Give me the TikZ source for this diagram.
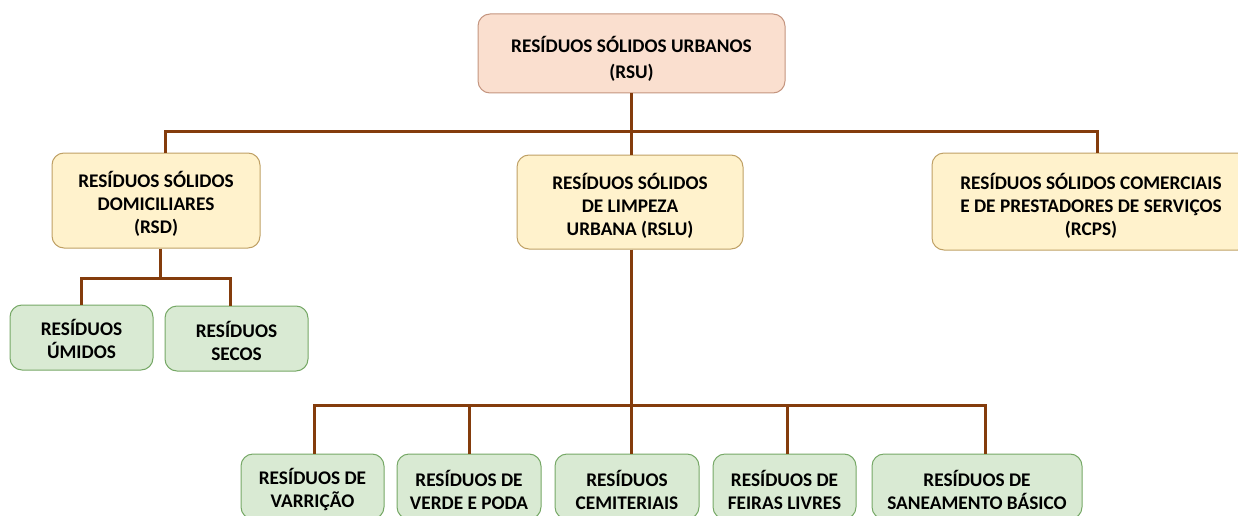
\documentclass[tikz,border=0pt]{standalone}
\usepackage{fontspec}
\setmainfont{Carlito}
\begin{document}
\begin{tikzpicture}[x=1pt,y=-1pt,
  box/.style={rounded corners=12pt, line width=1pt, inner sep=0pt},
  txt/.style={align=center, inner sep=0pt, text=black,
    font=\fontsize{19.3}{23}\selectfont\bfseries},
  rootbox/.style={box, draw=rootline, fill=rootfill},
  midbox/.style={box, draw=midline, fill=midfill},
  leafbox/.style={box, draw=leafline, fill=leaffill},
  conn/.style={draw=connbrown, line width=3pt}
]
\definecolor{rootfill}{HTML}{FADFCF}
\definecolor{rootline}{HTML}{C4957F}
\definecolor{midfill}{HTML}{FFF2CC}
\definecolor{midline}{HTML}{BFA065}
\definecolor{leaffill}{HTML}{D9EAD3}
\definecolor{leafline}{HTML}{76A866}
\definecolor{connbrown}{HTML}{843C0C}
\useasboundingbox (0,0) rectangle (1238,516);

% boxes
\node[rootbox, minimum width=307pt, minimum height=79pt] (rsu) at (631.5,53.5) {};
\node[midbox, minimum width=208pt, minimum height=95pt] (rsd) at (156,200.5) {};
\node[midbox, minimum width=226pt, minimum height=94pt] (rslu) at (630,202) {};
\node[midbox, minimum width=318pt, minimum height=97pt] (rcps) at (1091,201.5) {};
\node[leafbox, minimum width=143pt, minimum height=65pt] (umidos) at (81.5,337.5) {};
\node[leafbox, minimum width=143pt, minimum height=65pt] (secos) at (236.5,338.5) {};
\node[leafbox, minimum width=143pt, minimum height=65pt] (varr) at (312.5,486.5) {};
\node[leafbox, minimum width=144pt, minimum height=65pt] (verde) at (469,486.5) {};
\node[leafbox, minimum width=144pt, minimum height=65pt] (cemit) at (627,486.5) {};
\node[leafbox, minimum width=143pt, minimum height=65pt] (feiras) at (784.5,486.5) {};
\node[leafbox, minimum width=210pt, minimum height=65pt] (sanea) at (977,486.5) {};

% texts
\node[txt, font=\fontsize{19.3}{26}\selectfont\bfseries] (rsuT) at ([yshift=-5pt]rsu.center)
  {RESÍDUOS SÓLIDOS URBANOS\\(RSU)};
\node[txt] (rsdT) at ([yshift=-3pt]rsd.center) {RESÍDUOS SÓLIDOS\\DOMICILIARES\\(RSD)};
\node[txt] (rsluT) at ([yshift=-3.5pt]rslu.center) {RESÍDUOS SÓLIDOS\\DE LIMPEZA\\URBANA (RSLU)};
\node[txt] (rcpsT) at ([yshift=-4.5pt]rcps.center)
  {RESÍDUOS SÓLIDOS COMERCIAIS\\E DE PRESTADORES DE SERVIÇOS\\(RCPS)};
\node[txt] (umidosT) at ([yshift=-1pt]umidos.center) {RESÍDUOS\\ÚMIDOS};
\node[txt] (secosT) at ([yshift=-2pt]secos.center) {RESÍDUOS\\SECOS};
\node[txt] (varrT) at ([yshift=-3.5pt]varr.center) {RESÍDUOS DE\\VARRIÇÃO};
\node[txt] (verdeT) at ([yshift=-3.5pt]verde.center) {RESÍDUOS DE\\VERDE E PODA};
\node[txt] (cemitT) at ([yshift=-3.5pt]cemit.center) {RESÍDUOS\\CEMITERIAIS};
\node[txt] (feirasT) at ([yshift=-3.5pt]feiras.center) {RESÍDUOS DE\\FEIRAS LIVRES};
\node[txt] (saneaT) at ([yshift=-3.5pt]sanea.center) {RESÍDUOS DE\\SANEAMENTO BÁSICO};

% level 1 bus
\coordinate (b1L) at (165,131);
\coordinate (b1M) at (631,131);
\coordinate (b1R) at (1097,131);
\draw[conn] (rsu.south -| b1M) -- (b1M |- rslu.north);
\draw[conn] (b1L |- rsd.north) -- (b1L) -- (b1R) -- (b1R |- rcps.north);

% RSD children
\coordinate (b2M) at (160,278);
\coordinate (b2L) at (81,278);
\coordinate (b2R) at (230,278);
\draw[conn] (b2M |- rsd.south) -- (b2M);
\draw[conn] (b2L |- umidos.north) -- (b2L) -- (b2R) -- (b2R |- secos.north);

% RSLU children
\coordinate (b3M) at (631,405);
\coordinate (b3a) at (314,405);
\coordinate (b3b) at (469,405);
\coordinate (b3d) at (787,405);
\coordinate (b3e) at (985,405);
\draw[conn] (b3M |- rslu.south) -- (b3M |- cemit.north);
\draw[conn] (b3a |- varr.north) -- (b3a) -- (b3e) -- (b3e |- sanea.north);
\draw[conn] (b3b) -- (b3b |- verde.north);
\draw[conn] (b3d) -- (b3d |- feiras.north);
\end{tikzpicture}
\end{document}
